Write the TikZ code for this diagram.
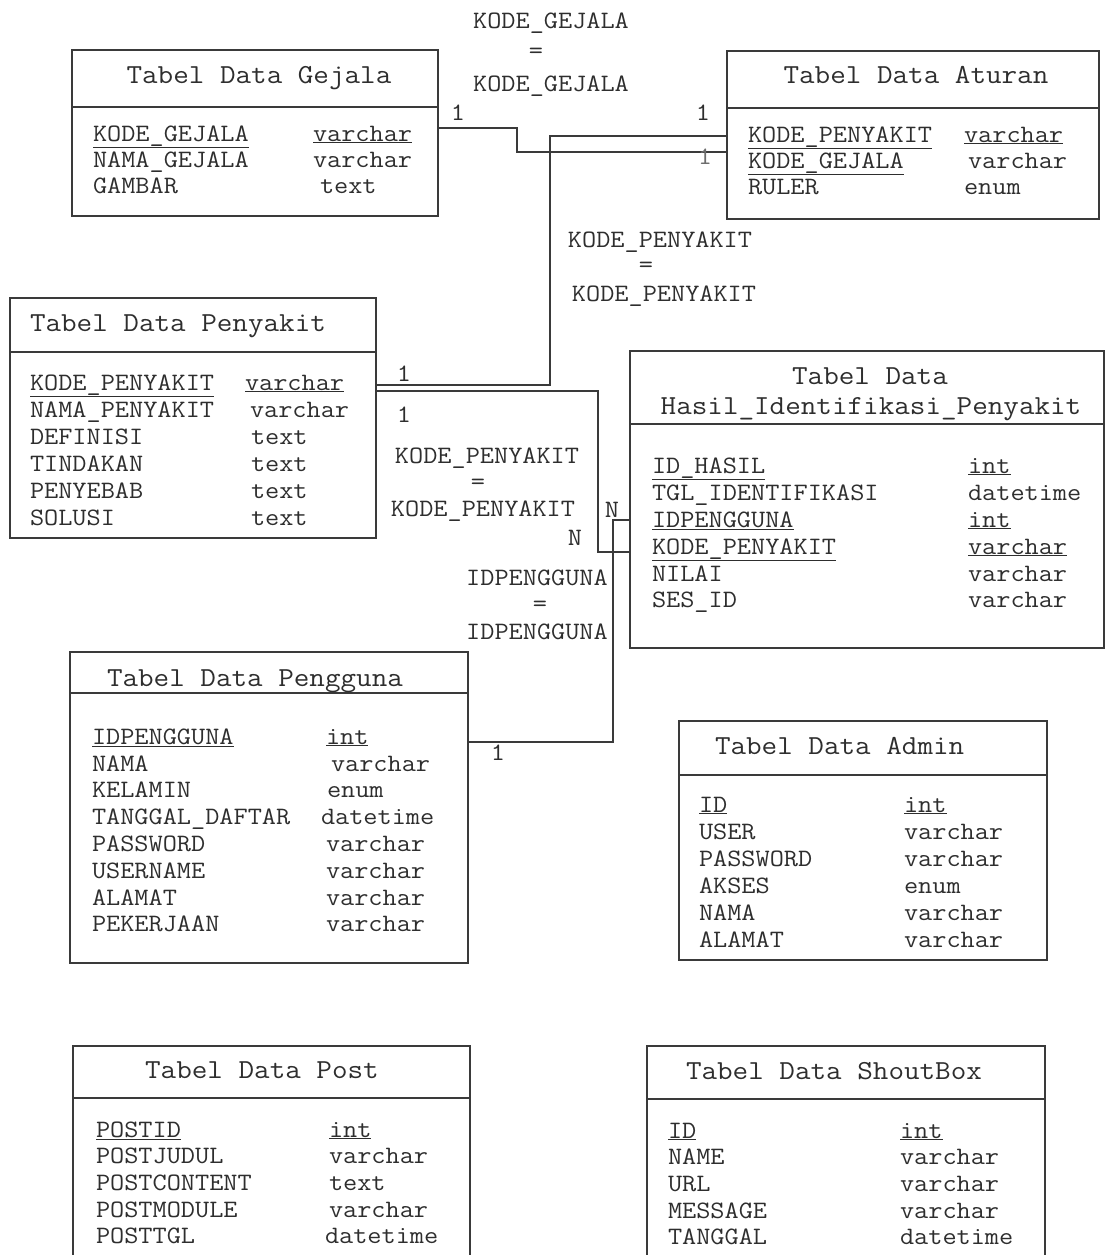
\documentclass[tikz,border=0pt]{standalone}
\usepackage{fontspec}
\newfontfamily\erdmono{Latin Modern Mono}[FakeStretch=1.1]
\definecolor{ink}{HTML}{2E2E2E}
\definecolor{wire}{HTML}{3A3A3A}
\begin{document}
\begin{tikzpicture}[x=1pt,y=-1pt,
  every node/.style={inner sep=0pt,outer sep=0pt,text=ink},
  tbl/.style={draw=wire,line width=1.5pt,rectangle,anchor=north west,fill=none},
  hdr/.style={draw=wire,line width=1.5pt},
  ttl/.style={font=\erdmono\fontsize{27.5}{27.5}\selectfont,anchor=base},
  ttlw/.style={font=\erdmono\fontsize{27.5}{27.5}\selectfont,anchor=base west},
  fld/.style={font=\erdmono\fontsize{25}{25}\selectfont,anchor=base west},
  lbl/.style={font=\erdmono\fontsize{25}{25}\selectfont,anchor=base},
  card/.style={font=\erdmono\fontsize{25}{25}\selectfont,anchor=base},
  rel/.style={draw=wire,line width=1.5pt}]
\useasboundingbox (0,0) rectangle (1106,1255);
\fill[white] (0,0) rectangle (1106,1255);

% ---------------- Tabel Data Gejala ----------------
\node[tbl,minimum width=366pt,minimum height=166pt] (gej) at (72,50) {};
\draw[hdr] ([yshift=-57pt]gej.north west) -- ([yshift=-57pt]gej.north east);
\node[ttl] (gej-t) at (259,83) {Tabel Data Gejala};
\node[fld] (gej-n1) at (93,141) {\underline{KODE\_GEJALA}};
\node[fld] (gej-t1) at (313,141) {\underline{varchar}};
\node[fld] (gej-n2) at (93,167) {NAMA\_GEJALA};
\node[fld] (gej-t2) at (313,167) {varchar};
\node[fld] (gej-n3) at (93,193) {GAMBAR};
\node[fld] (gej-t3) at (320,193) {text};

% ---------------- Tabel Data Aturan ----------------
\node[tbl,minimum width=372pt,minimum height=168pt] (atu) at (727,51) {};
\draw[hdr] ([yshift=-57pt]atu.north west) -- ([yshift=-57pt]atu.north east);
\node[ttl] (atu-t) at (916,83) {Tabel Data Aturan};
\node[fld] (atu-n1) at (748,142) {\underline{KODE\_PENYAKIT}};
\node[fld] (atu-t1) at (964,142) {\underline{varchar}};
\node[fld] (atu-n2) at (748,168) {\underline{KODE\_GEJALA}};
\node[fld] (atu-t2) at (968,168) {varchar};
\node[fld] (atu-n3) at (748,194) {RULER};
\node[fld] (atu-t3) at (964,194) {enum};

% ---------------- Tabel Data Penyakit ----------------
\node[tbl,minimum width=366pt,minimum height=240pt] (pen) at (10,298) {};
\draw[hdr] ([yshift=-54pt]pen.north west) -- ([yshift=-54pt]pen.north east);
\node[ttlw] (pen-t) at (30,331) {Tabel Data Penyakit};
\node[fld] (pen-n1) at (30,390) {\underline{KODE\_PENYAKIT}};
\node[fld] (pen-t1) at (245,390) {\underline{varchar}};
\node[fld] (pen-n2) at (30,417) {NAMA\_PENYAKIT};
\node[fld] (pen-t2) at (250,417) {varchar};
\node[fld] (pen-n3) at (30,444) {DEFINISI};
\node[fld] (pen-t3) at (251,444) {text};
\node[fld] (pen-n4) at (30,471) {TINDAKAN};
\node[fld] (pen-t4) at (251,471) {text};
\node[fld] (pen-n5) at (30,498) {PENYEBAB};
\node[fld] (pen-t5) at (251,498) {text};
\node[fld] (pen-n6) at (30,525) {SOLUSI};
\node[fld] (pen-t6) at (251,525) {text};

% ---------------- Tabel Data Hasil_Identifikasi_Penyakit ----------------
\node[tbl,minimum width=474pt,minimum height=297pt] (has) at (630,351) {};
\draw[hdr] ([yshift=-73pt]has.north west) -- ([yshift=-73pt]has.north east);
\node[ttl] (has-t1) at (870,384) {Tabel Data};
\node[ttl] (has-t2) at (871,414) {Hasil\_Identifikasi\_Penyakit};
\node[fld] (has-n1) at (652,473) {\underline{ID\_HASIL}};
\node[fld] (has-t3) at (968,473) {\underline{int}};
\node[fld] (has-n2) at (652,500) {TGL\_IDENTIFIKASI};
\node[fld] (has-t4) at (968,500) {datetime};
\node[fld] (has-n3) at (652,527) {\underline{IDPENGGUNA}};
\node[fld] (has-t5) at (968,527) {\underline{int}};
\node[fld] (has-n4) at (652,554) {\underline{KODE\_PENYAKIT}};
\node[fld] (has-t6) at (968,554) {\underline{varchar}};
\node[fld] (has-n5) at (652,581) {NILAI};
\node[fld] (has-t7) at (968,581) {varchar};
\node[fld] (has-n6) at (652,607) {SES\_ID};
\node[fld] (has-t8) at (968,607) {varchar};

% ---------------- Tabel Data Pengguna ----------------
\node[tbl,minimum width=398pt,minimum height=311pt] (pgg) at (70,652) {};
\draw[hdr] ([yshift=-41pt]pgg.north west) -- ([yshift=-41pt]pgg.north east);
\node[ttlw] (pgg-t) at (107,686) {Tabel Data Pengguna};
\node[fld] (pgg-n1) at (92,744) {\underline{IDPENGGUNA}};
\node[fld] (pgg-t1) at (326,744) {\underline{int}};
\node[fld] (pgg-n2) at (92,771) {NAMA};
\node[fld] (pgg-t2) at (331,771) {varchar};
\node[fld] (pgg-n3) at (92,797) {KELAMIN};
\node[fld] (pgg-t3) at (327,797) {enum};
\node[fld] (pgg-n4) at (92,824) {TANGGAL\_DAFTAR};
\node[fld] (pgg-t4) at (321,824) {datetime};
\node[fld] (pgg-n5) at (92,851) {PASSWORD};
\node[fld] (pgg-t5) at (326,851) {varchar};
\node[fld] (pgg-n6) at (92,878) {USERNAME};
\node[fld] (pgg-t6) at (326,878) {varchar};
\node[fld] (pgg-n7) at (92,905) {ALAMAT};
\node[fld] (pgg-t7) at (326,905) {varchar};
\node[fld] (pgg-n8) at (92,931) {PEKERJAAN};
\node[fld] (pgg-t8) at (326,931) {varchar};

% ---------------- Tabel Data Admin ----------------
\node[tbl,minimum width=368pt,minimum height=239pt] (adm) at (679,721) {};
\draw[hdr] ([yshift=-54pt]adm.north west) -- ([yshift=-54pt]adm.north east);
\node[ttlw] (adm-t) at (715,754) {Tabel Data Admin};
\node[fld] (adm-n1) at (699,812) {\underline{ID}};
\node[fld] (adm-t1) at (904,812) {\underline{int}};
\node[fld] (adm-n2) at (699,839) {USER};
\node[fld] (adm-t2) at (904,839) {varchar};
\node[fld] (adm-n3) at (699,866) {PASSWORD};
\node[fld] (adm-t3) at (904,866) {varchar};
\node[fld] (adm-n4) at (699,893) {AKSES};
\node[fld] (adm-t4) at (904,893) {enum};
\node[fld] (adm-n5) at (699,920) {NAMA};
\node[fld] (adm-t5) at (904,920) {varchar};
\node[fld] (adm-n6) at (699,947) {ALAMAT};
\node[fld] (adm-t6) at (904,947) {varchar};

% ---------------- Tabel Data Post (runs off the page) ----------------
\draw[hdr] (73,1256) -- (73,1046) -- (470,1046) -- (470,1256);
\draw[hdr] (73,1098) -- (470,1098);
\node[ttl] (pst-t) at (262,1078) {Tabel Data Post};
\node[fld] (pst-n1) at (96,1137) {\underline{POSTID}};
\node[fld] (pst-t1) at (329,1137) {\underline{int}};
\node[fld] (pst-n2) at (96,1163) {POSTJUDUL};
\node[fld] (pst-t2) at (329,1163) {varchar};
\node[fld] (pst-n3) at (96,1190) {POSTCONTENT};
\node[fld] (pst-t3) at (329,1190) {text};
\node[fld] (pst-n4) at (96,1217) {POSTMODULE};
\node[fld] (pst-t4) at (329,1217) {varchar};
\node[fld] (pst-n5) at (96,1243) {POSTTGL};
\node[fld] (pst-t5) at (325,1243) {datetime};

% ---------------- Tabel Data ShoutBox (runs off the page) ----------------
\draw[hdr] (647,1256) -- (647,1046) -- (1045,1046) -- (1045,1256);
\draw[hdr] (647,1099) -- (1045,1099);
\node[ttl] (sht-t) at (834,1079) {Tabel Data ShoutBox};
\node[fld] (sht-n1) at (668,1138) {\underline{ID}};
\node[fld] (sht-t1) at (900,1138) {\underline{int}};
\node[fld] (sht-n2) at (668,1164) {NAME};
\node[fld] (sht-t2) at (900,1164) {varchar};
\node[fld] (sht-n3) at (668,1191) {URL};
\node[fld] (sht-t3) at (900,1191) {varchar};
\node[fld] (sht-n4) at (668,1218) {MESSAGE};
\node[fld] (sht-t4) at (900,1218) {varchar};
\node[fld] (sht-n5) at (668,1244) {TANGGAL};
\node[fld] (sht-t5) at (900,1244) {datetime};

% ---------------- Relationships ----------------
% Gejala -- Aturan
\draw[rel] ([yshift=-78pt]gej.north east) -- ++(79,0) |- ([yshift=-101pt]atu.north west);
% Penyakit -- Aturan
\draw[rel] ([yshift=-87pt]pen.north east) -- ++(174,0) |- ([yshift=-85pt]atu.north west);
% Penyakit -- Hasil
\draw[rel] ([yshift=-93pt]pen.north east) -- ++(222,0) |- ([yshift=-201pt]has.north west);
% Pengguna -- Hasil
\draw[rel] ([yshift=-90pt]pgg.north east) -- ++(145,0) |- ([yshift=-169pt]has.north west);

% join conditions
\node[lbl] (rg1) at (551,29) {KODE\_GEJALA};
\node[lbl] (rg2) at (536,59) {=};
\node[lbl] (rg3) at (551,92) {KODE\_GEJALA};
\node[lbl] (ra1) at (660,247) {KODE\_PENYAKIT};
\node[lbl] (ra2) at (646,272) {=};
\node[lbl] (ra3) at (664,301) {KODE\_PENYAKIT};
\node[lbl] (rh1) at (487,463) {KODE\_PENYAKIT};
\node[lbl] (rh2) at (478,489) {=};
\node[lbl] (rh3) at (483,516) {KODE\_PENYAKIT};
\node[lbl] (ru1) at (537,585) {IDPENGGUNA};
\node[lbl] (ru2) at (540,611) {=};
\node[lbl] (ru3) at (537,639) {IDPENGGUNA};

% cardinalities
\node[card] (c1) at (458,120) {1};
\node[card] (c2) at (703,120) {1};
\node[card,text=ink!70] (c3) at (705,164) {1};
\node[card] (c4) at (404,381) {1};
\node[card] (c5) at (404,422) {1};
\node[card] (c6) at (575,545) {N};
\node[card] (c7) at (612,517) {N};
\node[card] (c8) at (498,760) {1};
\end{tikzpicture}
\end{document}
